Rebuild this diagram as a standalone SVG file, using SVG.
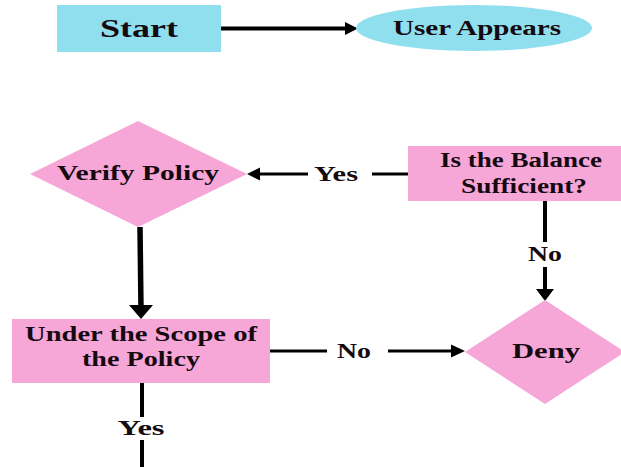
<svg xmlns="http://www.w3.org/2000/svg" width="621" height="467" viewBox="0 0 621 467">
  <style>
    .cyan { fill: #8fdfef; }
    .pink { fill: #f7a6d8; }
    text { font-family: "Liberation Serif", "Times New Roman", serif; font-weight: bold; fill: #150a10; text-anchor: middle; }
    .lbl { font-size: 21px; }
    .line { stroke: #000; fill: none; }
    .head { fill: #000; }
  </style>
  <rect width="621" height="467" fill="#ffffff"/>

  <!-- connectors -->
  <g id="connectors">
    <!-- Start -> User Appears -->
    <line class="line" x1="221" y1="28.5" x2="347" y2="28.5" stroke-width="4"/>
    <polygon class="head" points="358,28.5 345,22 345,35"/>

    <!-- Is the Balance Sufficient? -> Verify Policy (Yes) -->
    <line class="line" x1="408" y1="174" x2="372" y2="174" stroke-width="3"/>
    <line class="line" x1="308" y1="174" x2="256" y2="174" stroke-width="3"/>
    <polygon class="head" points="247,174 260,167.5 260,180.5"/>
    <text class="lbl" x="336" y="181" textLength="44" lengthAdjust="spacingAndGlyphs">Yes</text>

    <!-- Verify Policy -> Under the Scope of the Policy -->
    <line class="line" x1="140" y1="227" x2="141" y2="309" stroke-width="5.5"/>
    <polygon class="head" points="141,319 129,305 153,305"/>

    <!-- Is the Balance Sufficient? -> Deny (No) -->
    <line class="line" x1="545" y1="201" x2="545" y2="242" stroke-width="4"/>
    <text class="lbl" x="545" y="261" textLength="34" lengthAdjust="spacingAndGlyphs">No</text>
    <line class="line" x1="545" y1="267" x2="545" y2="292" stroke-width="4"/>
    <polygon class="head" points="545,301 536,289 554,289"/>

    <!-- Under the Scope of the Policy -> Deny (No) -->
    <line class="line" x1="270" y1="351" x2="327" y2="351" stroke-width="3"/>
    <text class="lbl" x="354" y="358" textLength="34" lengthAdjust="spacingAndGlyphs">No</text>
    <line class="line" x1="388" y1="351" x2="454" y2="351" stroke-width="3"/>
    <polygon class="head" points="465,351 451,344.5 451,357.5"/>

    <!-- Under the Scope of the Policy -> continues down (Yes) -->
    <line class="line" x1="142" y1="383" x2="142" y2="417" stroke-width="4"/>
    <text class="lbl" x="141" y="435" textLength="47" lengthAdjust="spacingAndGlyphs">Yes</text>
    <line class="line" x1="142" y1="440" x2="142" y2="467" stroke-width="4"/>
  </g>

  <!-- nodes -->
  <g id="start">
    <rect class="cyan" x="57" y="5" width="164" height="47"/>
    <text x="139" y="37" font-size="25" textLength="78" lengthAdjust="spacingAndGlyphs">Start</text>
  </g>

  <g id="user-appears">
    <ellipse class="cyan" cx="474" cy="28" rx="118" ry="23"/>
    <text x="477" y="35" font-size="21" textLength="168" lengthAdjust="spacingAndGlyphs">User Appears</text>
  </g>

  <g id="verify-policy">
    <polygon class="pink" points="138,121 247,174 138,227 30,174"/>
    <text x="138" y="180" font-size="22" textLength="162" lengthAdjust="spacingAndGlyphs">Verify Policy</text>
  </g>

  <g id="balance-sufficient">
    <rect class="pink" x="408" y="146" width="230" height="55"/>
    <text x="521" y="167" font-size="20" textLength="162" lengthAdjust="spacingAndGlyphs">Is the Balance</text>
    <text x="524" y="193" font-size="20" textLength="126" lengthAdjust="spacingAndGlyphs">Sufficient?</text>
  </g>

  <g id="under-scope">
    <rect class="pink" x="12" y="319" width="258" height="64"/>
    <text x="141" y="341" font-size="21" textLength="232" lengthAdjust="spacingAndGlyphs">Under the Scope of</text>
    <text x="141" y="366" font-size="21" textLength="118" lengthAdjust="spacingAndGlyphs">the Policy</text>
  </g>

  <g id="deny">
    <polygon class="pink" points="545,300 625,352 545,404 465,352"/>
    <text x="546" y="358" font-size="22" textLength="68" lengthAdjust="spacingAndGlyphs">Deny</text>
  </g>
</svg>
